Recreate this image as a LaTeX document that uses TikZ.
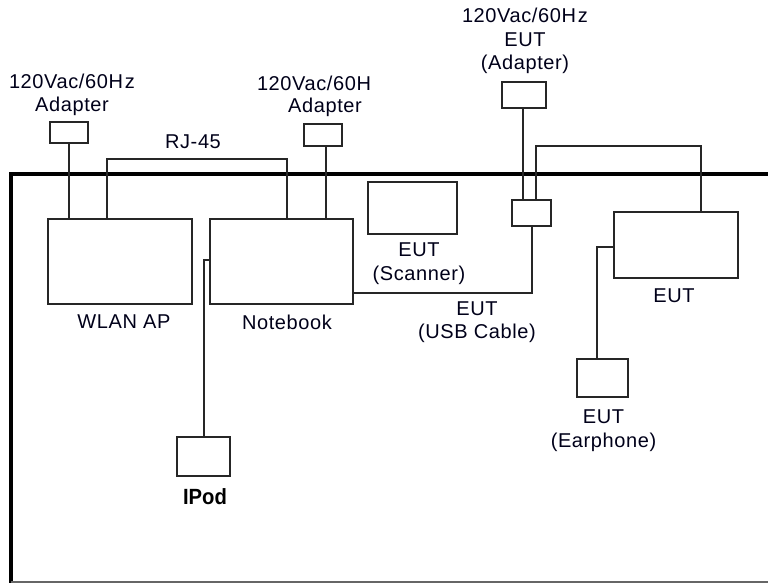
\documentclass[tikz,border=0pt]{standalone}
\usepackage{fontspec}
\setmainfont{Liberation Sans}[LetterSpace=3]
\newfontfamily\narrowfont{Liberation Sans}[FakeStretch=0.92]
\begin{document}
\begin{tikzpicture}[x=1pt,y=-1pt,
  box/.style={draw=black!85,line width=2pt,rectangle,inner sep=0pt},
  wire/.style={draw=black!85,line width=2pt},
  lbl/.style={inner sep=0pt,align=center,font=\fontsize{20}{23.5}\selectfont,text=black!90!blue}]
\useasboundingbox (0,0) rectangle (768,583);
% table
\draw[line width=4pt,line join=miter] (770,173.5) -- (10.5,173.5) -- (10.5,585);
\draw[line width=2pt,black!60] (10.5,581.5) -- (770,581.5);
% boxes
\node[box,minimum width=38pt,minimum height=21pt] (adp1) at (69,132.5) {};
\node[box,minimum width=144pt,minimum height=85pt] (wlan) at (120,261.5) {};
\node[box,minimum width=143pt,minimum height=85pt] (nb) at (281.5,261.5) {};
\node[box,minimum width=38pt,minimum height=22pt] (adp2) at (323,135) {};
\node[box,minimum width=89pt,minimum height=52pt] (scan) at (412.5,208) {};
\node[box,minimum width=39pt,minimum height=26pt] (usb) at (531.5,213) {};
\node[box,minimum width=44pt,minimum height=26pt] (eutadp) at (524,95) {};
\node[box,minimum width=124pt,minimum height=66pt] (eut) at (676,245) {};
\node[box,minimum width=51pt,minimum height=38pt] (ear) at (602.5,378) {};
\node[box,minimum width=53pt,minimum height=39pt] (ipod) at (203.5,456.5) {};
% helper coordinates
\coordinate (rj) at (200,159);
\coordinate (topw) at (600,146);
% connectors
\draw[wire] (adp1.south) -- (adp1.south |- wlan.north);
\draw[wire] ([xshift=3pt]adp2.south) -- ([xshift=3pt]adp2.south |- nb.north);
\draw[wire] ([xshift=60pt]wlan.north west) |- (rj) -| ([xshift=78pt]nb.north west);
\draw[wire] ([xshift=-1pt]eutadp.south) -- ([xshift=-1pt]eutadp.south |- usb.north);
\draw[wire] ([xshift=4.5pt]usb.north) |- (topw) -| ([xshift=25pt]eut.north);
\draw[wire] (usb.south) |- ([yshift=12pt]nb.south east);
\draw[wire] ([yshift=-2pt]eut.west) -| ([xshift=21pt]ear.north west);
\draw[wire] ([yshift=1.5pt]nb.west) -| (ipod.north);
% labels
\node[lbl] (lAdp1) at (72,95) {120Vac/60H\kern2pt z\\Adapter};
\node[lbl] (lAdp2a) at (314,83) {120Vac/60H};
\node[lbl] (lAdp2b) at (325,107) {Adapter};
\node[lbl] (lRj) at (193,142) {RJ-45};
\node[lbl] (lWlan) at (124,322) {WLAN AP};
\node[lbl] (lNb) at (287,322) {Notebook};
\node[lbl] (lScan) at (419,263.5) {EUT\\(Scanner)};
\node[lbl] (lUsb) at (477,322) {EUT\\(USB Cable)};
\node[lbl] (lEutadp) at (525,41) {120Vac/60H\kern2pt z\\EUT\\(Adapter)};
\node[lbl] (lEut) at (674,296) {EUT};
\node[lbl] (lEar) at (603.5,430.5) {EUT\\(Earphone)};
\node[lbl,font=\narrowfont\fontsize{22}{24}\selectfont\bfseries,text=black] (lIpod) at (205,497) {IPod};
\end{tikzpicture}
\end{document}
